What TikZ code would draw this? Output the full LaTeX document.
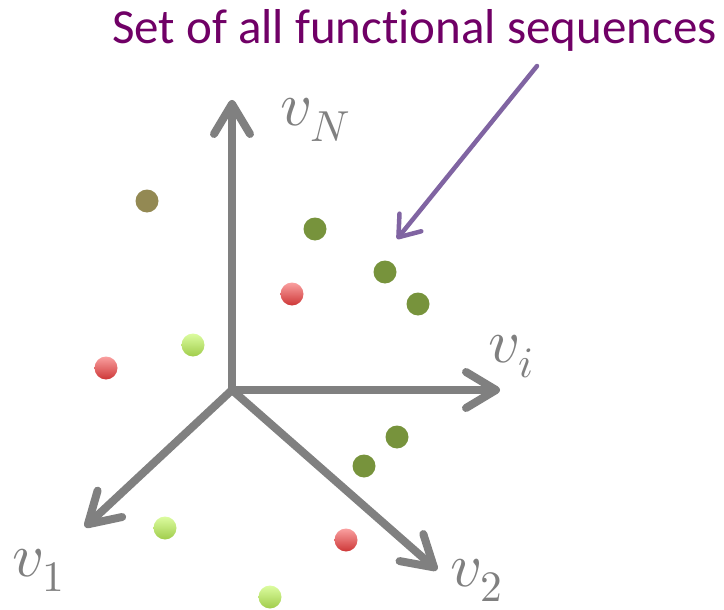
\documentclass[tikz,border=0pt]{standalone}
\usepackage{fontspec}
\usepackage{unicode-math}
\setmathfont{Latin Modern Math}
\newfontfamily\calib[Ligatures=NoCommon]{Carlito}
\usetikzlibrary{arrows.meta}
\definecolor{axgray}{RGB}{128,128,128}
\definecolor{titlepurple}{RGB}{112,0,102}
\definecolor{arrpurple}{RGB}{128,100,162}
\definecolor{olivedot}{RGB}{147,137,83}
\definecolor{greendot}{RGB}{119,147,60}
\definecolor{redtop}{RGB}{250,160,160}
\definecolor{redbot}{RGB}{205,55,55}
\definecolor{ltop}{RGB}{220,252,160}
\definecolor{lbot}{RGB}{160,205,75}
\tikzset{
  axis/.style={draw=axgray, line width=8pt, line cap=round, line join=round,
    -{Straight Barb[length=30pt, width=36pt, line width=8pt, round]}},
  dot/.style={circle, inner sep=0pt, minimum size=23pt},
  gdot/.style={dot, fill=greendot},
  odot/.style={dot, fill=olivedot},
  rdot/.style={dot, top color=redtop, bottom color=redbot},
  ldot/.style={dot, top color=ltop, bottom color=lbot},
  axlabel/.style={text=axgray, inner sep=0pt, anchor=base west, font=\fontsize{62}{62}\selectfont},
}
\begin{document}
\begin{tikzpicture}[x=1pt,y=-1pt]
\useasboundingbox (0,0) rectangle (724,610);
% axes
\coordinate (o) at (232,390);
\coordinate (tN) at (232,100);
\coordinate (ti) at (500,390);
\coordinate (t1) at (85,527);
\coordinate (t2) at (437,570);
\draw[axis] (o) -- (tN);
\draw[axis] (o) -- (ti);
\draw[axis] (o) -- (t1);
\draw[axis] (o) -- (t2);
% labels
\node[axlabel] (lN) at (280,126) {$v_N$};
\node[axlabel] (li) at (488,362) {$v_i$};
\node[axlabel] (l1) at (12,576) {$v_1$};
\node[axlabel] (l2) at (450,586) {$v_2$};
% title
\node[text=titlepurple, inner sep=0pt, anchor=base west, font=\calib\fontsize{49}{49}\selectfont] (title) at (112,44) {Set of all funct\kern0pt ional sequences};
\coordinate (as) at (537,66);
\coordinate (ae) at (397,239);
\draw[arrpurple, line width=4.5pt, line cap=round, -{Straight Barb[length=19pt, width=28pt, line width=4.5pt, round]}] (as) -- (ae);
% dots
\node[odot] (d1) at (147,201) {};
\node[gdot] (d2) at (315,229) {};
\node[gdot] (d3) at (385,272) {};
\node[gdot] (d4) at (418,304) {};
\node[gdot] (d5) at (397,437) {};
\node[gdot] (d6) at (364,466) {};
\node[rdot] (d7) at (292,294) {};
\node[rdot] (d8) at (106,368) {};
\node[rdot] (d9) at (346,540) {};
\node[ldot] (d10) at (193,345) {};
\node[ldot] (d11) at (165,528) {};
\node[ldot] (d12) at (270,597) {};
\end{tikzpicture}
\end{document}
